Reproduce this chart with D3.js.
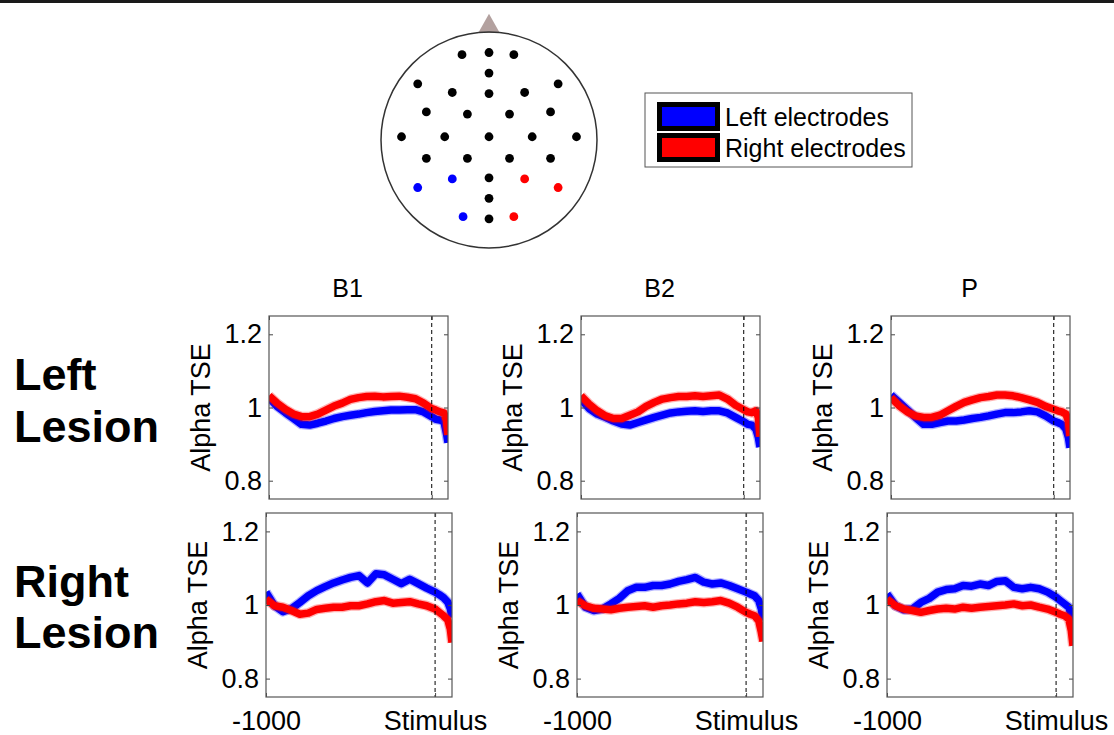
<!DOCTYPE html>
<html>
<head>
<meta charset="utf-8">
<script src="https://cdn.jsdelivr.net/npm/d3@7"></script>
<style>
  body { margin: 0; background: #fff; }
  svg text { font-family: "Liberation Sans", Arial, sans-serif; fill: #000; }
</style>
</head>
<body>
<div id="chart"></div>
<script>
// time axis, ms before stimulus
const times = [-1000, -950, -900, -850, -800, -750, -700, -650, -600, -550, -500, -450, -400,
  -350, -300, -250, -200, -150, -100, -50, 0, 25, 50, 75, 90, 100];

const columns = ['B1', 'B2', 'P'];
const rows = ['Left Lesion', 'Right Lesion'];
const yTicks = [0.8, 1, 1.2];
const xTicks = [-1000, 0];
const xTickLabels = ['-1000', 'Stimulus'];

// alpha TSE, left electrodes (blue) and right electrodes (red)
const leftLesionB1Blue = [1.027, 1.003, 0.986, 0.970, 0.954, 0.952, 0.957, 0.963, 0.970, 0.975, 0.979, 0.982, 0.986, 0.989, 0.991, 0.993, 0.993, 0.994, 0.994, 0.988, 0.975, 0.968, 0.966, 0.961, 0.930, 0.904];
const leftLesionB1Red = [1.032, 1.012, 0.995, 0.982, 0.975, 0.975, 0.982, 0.993, 1.004, 1.012, 1.022, 1.027, 1.030, 1.031, 1.029, 1.030, 1.031, 1.028, 1.024, 1.012, 0.997, 0.993, 0.988, 0.985, 0.965, 0.925];
const leftLesionB2Blue = [1.023, 0.997, 0.982, 0.973, 0.963, 0.955, 0.952, 0.959, 0.966, 0.973, 0.979, 0.985, 0.988, 0.990, 0.991, 0.989, 0.991, 0.991, 0.985, 0.973, 0.961, 0.954, 0.952, 0.941, 0.918, 0.892];
const leftLesionB2Red = [1.032, 1.009, 0.991, 0.977, 0.970, 0.970, 0.979, 0.988, 1.003, 1.014, 1.023, 1.027, 1.030, 1.030, 1.032, 1.030, 1.032, 1.034, 1.023, 1.006, 0.994, 0.988, 0.986, 0.991, 0.973, 0.920];
const leftLesionPBlue = [1.034, 1.014, 0.994, 0.973, 0.954, 0.954, 0.959, 0.963, 0.963, 0.966, 0.970, 0.973, 0.977, 0.982, 0.986, 0.986, 0.988, 0.991, 0.988, 0.977, 0.963, 0.959, 0.954, 0.941, 0.918, 0.890];
const leftLesionPRed = [1.027, 1.005, 0.988, 0.977, 0.973, 0.973, 0.979, 0.991, 1.003, 1.014, 1.021, 1.027, 1.030, 1.034, 1.034, 1.032, 1.027, 1.021, 1.014, 1.003, 0.995, 0.991, 0.988, 0.982, 0.963, 0.922];
const rightLesionB1Blue = [1.035, 0.998, 0.982, 0.990, 1.007, 1.025, 1.039, 1.050, 1.060, 1.068, 1.075, 1.080, 1.060, 1.085, 1.082, 1.070, 1.058, 1.070, 1.058, 1.046, 1.035, 1.028, 1.020, 1.008, 0.990, 0.966];
const rightLesionB1Red = [1.016, 0.998, 0.994, 0.985, 0.975, 0.978, 0.988, 0.991, 0.994, 0.994, 0.998, 0.998, 1.003, 1.009, 1.012, 1.005, 1.007, 1.009, 1.003, 0.998, 0.989, 0.980, 0.971, 0.960, 0.935, 0.898];
const rightLesionB2Blue = [1.030, 0.994, 0.985, 0.989, 1.003, 1.018, 1.039, 1.048, 1.048, 1.053, 1.053, 1.057, 1.064, 1.069, 1.075, 1.062, 1.057, 1.060, 1.053, 1.044, 1.035, 1.030, 1.025, 1.012, 0.989, 0.958];
const rightLesionB2Red = [1.012, 0.998, 0.991, 0.989, 0.987, 0.991, 0.994, 0.996, 0.998, 0.994, 0.998, 1.000, 1.003, 1.005, 1.009, 1.007, 1.009, 1.012, 1.005, 0.994, 0.980, 0.975, 0.971, 0.957, 0.926, 0.901];
const rightLesionPBlue = [1.030, 0.998, 0.987, 0.989, 1.007, 1.018, 1.035, 1.042, 1.044, 1.053, 1.051, 1.057, 1.053, 1.064, 1.066, 1.048, 1.044, 1.048, 1.044, 1.035, 1.021, 1.012, 1.003, 0.994, 0.971, 0.950];
const rightLesionPRed = [1.016, 0.998, 0.989, 0.985, 0.980, 0.985, 0.989, 0.991, 0.989, 0.994, 0.991, 0.994, 0.996, 0.998, 1.000, 1.003, 0.998, 1.000, 0.994, 0.989, 0.980, 0.975, 0.971, 0.962, 0.930, 0.889];

const panelSeries = [
  [[leftLesionB1Blue, leftLesionB1Red], [leftLesionB2Blue, leftLesionB2Red], [leftLesionPBlue, leftLesionPRed]],
  [[rightLesionB1Blue, rightLesionB1Red], [rightLesionB2Blue, rightLesionB2Red], [rightLesionPBlue, rightLesionPRed]]
];

// electrode layout in head units (centre 0,0, radius 1)
const electrodesBlack = [
  [-0.25, -0.79], [0, -0.81], [0.23, -0.79], [0, -0.62],
  [-0.66, -0.52], [-0.34, -0.44], [0, -0.43], [0.33, -0.44], [0.64, -0.52],
  [-0.58, -0.26], [-0.2, -0.24], [0.19, -0.24], [0.57, -0.26],
  [-0.81, -0.03], [-0.41, -0.03], [0, -0.03], [0.4, -0.03], [0.81, -0.03],
  [-0.58, 0.17], [-0.2, 0.17], [0.19, 0.17], [0.57, 0.17],
  [0, 0.35], [0, 0.54], [0, 0.73]
];
const electrodesLeft = [[-0.66, 0.44], [-0.34, 0.36], [-0.24, 0.71]];
const electrodesRight = [[0.33, 0.36], [0.64, 0.44], [0.23, 0.71]];

const legendLabels = ['Left electrodes', 'Right electrodes'];
const seriesColors = ['#0000ff', '#ff0000'];

const W = 1114, H = 735;
const svg = d3.select('#chart').append('svg')
  .attr('width', W).attr('height', H)
  .attr('viewBox', [0, 0, W, H]);

// top rule
svg.append('line').attr('x1', 0).attr('x2', W).attr('y1', 1.5).attr('y2', 1.5)
  .attr('stroke', '#1a1a1a').attr('stroke-width', 3);

// ---- head diagram ----
const head = { cx: 489, cy: 140, r: 108 };
const hx = d3.scaleLinear().domain([-1, 1]).range([head.cx - head.r, head.cx + head.r]);
const hy = d3.scaleLinear().domain([-1, 1]).range([head.cy - head.r, head.cy + head.r]);

svg.append('path')
  .attr('d', `M${hx(0)},${hy(-1.17)} L${hx(0.1)},${hy(-0.99)} L${hx(-0.1)},${hy(-0.99)} Z`)
  .attr('fill', '#b3a19f');
svg.append('circle')
  .attr('cx', head.cx).attr('cy', head.cy).attr('r', head.r)
  .attr('fill', 'none').attr('stroke', '#333').attr('stroke-width', 1.5);

[[electrodesBlack, '#000'], [electrodesLeft, seriesColors[0]], [electrodesRight, seriesColors[1]]]
  .forEach(([pts, col]) => {
    svg.append('g').selectAll('circle').data(pts).join('circle')
      .attr('cx', d => hx(d[0])).attr('cy', d => hy(d[1]))
      .attr('r', 4.4).attr('fill', col);
  });

// ---- legend ----
const lg = svg.append('g').attr('transform', 'translate(645,93)');
lg.append('rect').attr('width', 267).attr('height', 74)
  .attr('fill', '#fff').attr('stroke', '#555').attr('stroke-width', 1);
legendLabels.forEach((lab, i) => {
  const y0 = 9 + i * 31;
  lg.append('rect').attr('x', 12).attr('y', y0).attr('width', 63).attr('height', 29).attr('fill', '#000');
  lg.append('rect').attr('x', 17).attr('y', y0 + 5).attr('width', 53).attr('height', 19).attr('fill', seriesColors[i]);
  lg.append('text').attr('x', 80).attr('y', y0 + 24).attr('font-size', 25).text(lab);
});

// ---- panels ----
const rowGeom = [
  { lefts: [269, 581, 891], width: 179, top: 316, height: 183 },
  { lefts: [266, 577, 887], width: 186, top: 513, height: 184 }
];
const rowLabelBase = [[390, 442], [597, 648]];

rows.forEach((rowName, ri) => {
  const words = rowName.split(' ');
  words.forEach((w, k) => {
    svg.append('text').attr('x', 14).attr('y', rowLabelBase[ri][k])
      .attr('font-size', 45).attr('font-weight', 'bold').text(w);
  });

  const geo = rowGeom[ri];
  columns.forEach((colName, ci) => {
    const left = geo.lefts[ci];
    const x = d3.scaleLinear().domain([-1000, 100]).range([left, left + geo.width]);
    const y = d3.scaleLinear().domain([0.75, 1.25]).range([geo.top + geo.height, geo.top]);
    const g = svg.append('g');

    if (ri === 0) {
      svg.append('text').attr('x', left + geo.width / 2 - 11).attr('y', 297)
        .attr('text-anchor', 'middle').attr('font-size', 25).text(colName);
    }

    // y axis label
    g.append('text')
      .attr('transform', `translate(${left - 59},${geo.top + geo.height / 2}) rotate(-90)`)
      .attr('text-anchor', 'middle').attr('font-size', 27).text('Alpha TSE');

    // series
    const line = d3.line().x((d, i) => x(times[i])).y(d => y(d));
    const clipId = `clip-${ri}-${ci}`;
    svg.append('clipPath').attr('id', clipId).append('rect')
      .attr('x', left).attr('y', geo.top).attr('width', geo.width).attr('height', geo.height);
    const lines = g.append('g').attr('clip-path', `url(#${clipId})`);
    panelSeries[ri][ci].forEach((vals, si) => {
      lines.append('path').datum(vals).attr('d', line)
        .attr('fill', 'none').attr('stroke', seriesColors[si])
        .attr('stroke-width', 10).attr('stroke-opacity', 0.3).attr('stroke-linejoin', 'round');
      lines.append('path').datum(vals).attr('d', line)
        .attr('fill', 'none').attr('stroke', seriesColors[si])
        .attr('stroke-width', 7.5).attr('stroke-linejoin', 'round');
    });

    // stimulus marker
    g.append('line').attr('x1', x(0)).attr('x2', x(0))
      .attr('y1', geo.top).attr('y2', geo.top + geo.height)
      .attr('stroke', '#000').attr('stroke-width', 1).attr('stroke-dasharray', '4,3');

    // axes
    const yl = g.append('g').attr('transform', `translate(${left},0)`)
      .call(d3.axisLeft(y).tickValues(yTicks).tickSize(-4).tickPadding(7).tickFormat(d3.format('~g')));
    const yr = g.append('g').attr('transform', `translate(${left + geo.width},0)`)
      .call(d3.axisRight(y).tickValues(yTicks).tickSize(-4).tickFormat(''));
    [yl, yr].forEach(a => {
      a.select('.domain').remove();
      a.selectAll('line').attr('stroke', '#444');
    });
    yl.selectAll('text').attr('font-size', 27).attr('font-family', '"Liberation Sans", Arial, sans-serif');

    const xb = g.append('g').attr('transform', `translate(0,${geo.top + geo.height})`)
      .call(d3.axisBottom(x).tickValues(xTicks).tickSize(-4).tickPadding(14)
        .tickFormat((d, i) => ri === 1 ? xTickLabels[i] : ''));
    const xt = g.append('g').attr('transform', `translate(0,${geo.top})`)
      .call(d3.axisTop(x).tickValues(xTicks).tickSize(-4).tickFormat(''));
    [xb, xt].forEach(a => {
      a.select('.domain').remove();
      a.selectAll('line').attr('stroke', '#444');
    });
    xb.selectAll('text').attr('font-size', 27).attr('font-family', '"Liberation Sans", Arial, sans-serif');

    // box
    g.append('rect').attr('x', left).attr('y', geo.top)
      .attr('width', geo.width).attr('height', geo.height)
      .attr('fill', 'none').attr('stroke', '#555').attr('stroke-width', 1.2);
  });
});
</script>
</body>
</html>
